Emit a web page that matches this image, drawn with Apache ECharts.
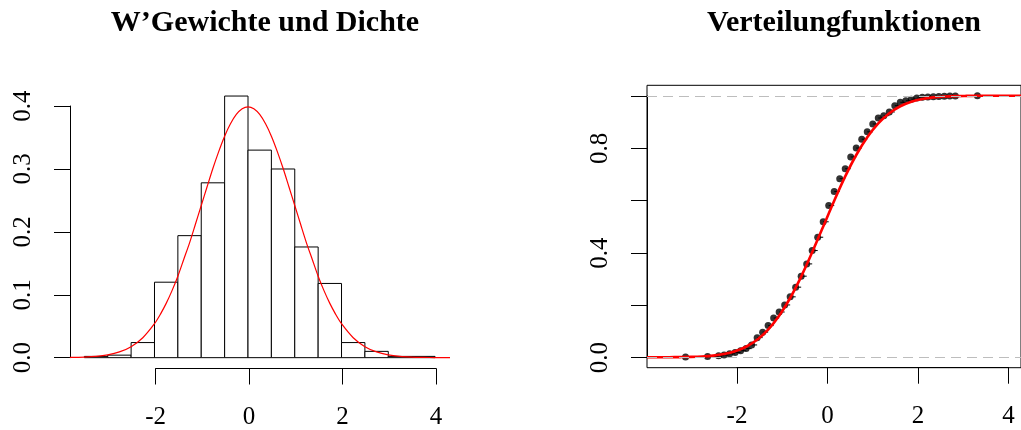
<!DOCTYPE html>
<html>
<head>
<meta charset="utf-8">
<title>W'Gewichte und Dichte / Verteilungfunktionen</title>
<script src="https://cdn.jsdelivr.net/npm/echarts@6/dist/echarts.min.js"></script>
<style>
  html, body { margin: 0; padding: 0; background: #fff; }
  #chart { width: 1021px; height: 430px; }
</style>
</head>
<body>
<div id="chart"></div>
<script>
  // Histogramm: Klassengrenzen und Dichten
  var histBreaks = [-3.5, -3, -2.5, -2, -1.5, -1, -0.5, 0, 0.5, 1, 1.5, 2, 2.5, 3, 3.5, 4];
  var histDensity = [0.002, 0.004, 0.024, 0.12, 0.194, 0.278, 0.416, 0.33, 0.30, 0.176, 0.118, 0.024, 0.01, 0.002, 0.002];

  // Dichtekurve (rot)
  var densX = [-3.81, -3.5, -3.25, -3, -2.75, -2.5, -2.25, -2, -1.875, -1.75, -1.625, -1.5, -1.375, -1.25, -1.125, -1,
               -0.875, -0.75, -0.625, -0.5, -0.375, -0.25, -0.125, 0,
               0.125, 0.25, 0.375, 0.5, 0.625, 0.75, 0.875, 1, 1.125, 1.25, 1.375, 1.5, 1.625, 1.75, 1.875, 2,
               2.25, 2.5, 2.75, 3, 3.25, 3.5, 3.75, 4, 4.32];
  var densY = [0.0003, 0.0009, 0.0020, 0.0044, 0.0091, 0.0175, 0.0317, 0.0540, 0.0689, 0.0863, 0.1066, 0.1295, 0.1561, 0.1826, 0.2121, 0.2420,
               0.2717, 0.3011, 0.3280, 0.3521, 0.3718, 0.3867, 0.3958, 0.3989,
               0.3958, 0.3867, 0.3718, 0.3521, 0.3280, 0.3011, 0.2717, 0.2420, 0.2121, 0.1826, 0.1561, 0.1295, 0.1066, 0.0863, 0.0689, 0.0540,
               0.0317, 0.0175, 0.0091, 0.0044, 0.0020, 0.0009, 0.0004, 0.0001, 0.00004];

  // empirische Verteilungsfunktion
  var ecdfX = [-3.125, -2.625, -2.375, -2.25, -2.125, -2, -1.875, -1.75, -1.625, -1.5, -1.375, -1.25, -1.125, -1, -0.875, -0.75,
               -0.625, -0.5, -0.375, -0.25, -0.125, 0, 0.125, 0.25, 0.375, 0.5, 0.625, 0.75, 0.875, 1, 1.125, 1.25,
               1.375, 1.5, 1.625, 1.75, 1.875, 2, 2.125, 2.25, 2.375, 2.5, 2.625, 2.75, 2.875, 3, 3.5];
  var ecdfY = [0.001, 0.003, 0.006, 0.009, 0.013, 0.018, 0.025, 0.033, 0.047, 0.075, 0.096, 0.121, 0.150, 0.173, 0.200, 0.231,
               0.268, 0.310, 0.357, 0.408, 0.459, 0.518, 0.580, 0.634, 0.683, 0.721, 0.766, 0.800, 0.834, 0.862, 0.892, 0.915,
               0.924, 0.938, 0.962, 0.975, 0.981, 0.987, 0.991, 0.994, 0.995, 0.996, 0.997, 0.998, 0.999, 0.999, 1.0];

  // theoretische Verteilungsfunktion (rot)
  var cdfX = [-4, -3.75, -3.5, -3.25, -3, -2.75, -2.5, -2.25, -2, -1.75, -1.5, -1.25, -1, -0.75, -0.5, -0.25, 0,
              0.25, 0.5, 0.75, 1, 1.25, 1.5, 1.75, 2, 2.25, 2.5, 2.75, 3, 3.25, 3.5, 3.75, 4, 4.49];
  var cdfY = [0.00003, 0.0001, 0.0002, 0.0006, 0.0013, 0.0030, 0.0062, 0.0122, 0.0228, 0.0401, 0.0668, 0.1056, 0.1587, 0.2266, 0.3085, 0.4013, 0.5,
              0.5987, 0.6915, 0.7734, 0.8413, 0.8944, 0.9332, 0.9599, 0.9772, 0.9878, 0.9938, 0.9970, 0.9987, 0.9994, 0.9998, 0.9999, 1.0, 1.0];

  var rightYLabels = [0, 0.4, 0.8];

  var FONT = 'Liberation Serif';

  var histData = [];
  for (var i = 0; i < histDensity.length; i++) {
    histData.push([histBreaks[i], histBreaks[i + 1], histDensity[i]]);
  }
  var densData = densX.map(function (x, i) { return [x, densY[i]]; });
  var cdfData = cdfX.map(function (x, i) { return [x, cdfY[i]]; });
  var ecdfPoints = ecdfX.map(function (x, i) { return [x, ecdfY[i]]; });

  // waagerechte Stufen der ECDF (ohne senkrechte Linien)
  var rightXMin = -4, rightXMax = 4.49;
  var ecdfSteps = [[rightXMin, 0], [ecdfX[0], 0], '-'];
  for (var k = 0; k < ecdfX.length; k++) {
    var xEnd = k < ecdfX.length - 1 ? ecdfX[k + 1] : rightXMax;
    ecdfSteps.push([ecdfX[k], ecdfY[k]], [xEnd, ecdfY[k]], '-');
  }

  function hiddenAxis(idx, min, max) {
    return { type: 'value', gridIndex: idx, min: min, max: max, show: false };
  }

  var tickStyle = { show: true, length: 16, inside: false, lineStyle: { color: '#000', width: 1 } };
  var lineStyle = { show: true, lineStyle: { color: '#000', width: 1 } };
  var labelStyle = { color: '#000', fontFamily: FONT, fontSize: 25 };
  var titleStyle = { fontFamily: FONT, fontWeight: 'bold', fontSize: 30, color: '#000' };

  var myChart = echarts.init(document.getElementById('chart'));
  var option = {
    animation: false,
    backgroundColor: '#fff',
    title: [
      { text: 'W’Gewichte und Dichte', left: 260, top: 3, textAlign: 'center', textStyle: titleStyle },
      { text: 'Verteilungfunktionen', left: 839, top: 3, textAlign: 'center', textStyle: titleStyle }
    ],
    grid: [
      // 0: Histogramm
      { left: 70, top: 85.6, width: 380, height: 282.5 },
      // 1: x-Achse links
      { left: 155.6, top: 300, width: 280.5, height: 68.5 },
      // 2: y-Achse links
      { left: 70, top: 106, width: 10, height: 251.7 },
      // 3: Verteilungsfunktion (mit Rahmen)
      { left: 647, top: 85.3, width: 384, height: 282.4, show: true, borderColor: '#000', borderWidth: 1, backgroundColor: 'transparent' },
      // 4: x-Achse rechts
      { left: 737, top: 300, width: 271.4, height: 67.7 },
      // 5: y-Achse rechts
      { left: 647, top: 96, width: 10, height: 261.7 }
    ],
    xAxis: [
      hiddenAxis(0, -3.807, 4.32),
      { type: 'value', gridIndex: 1, min: -2, max: 4, interval: 2, position: 'bottom',
        axisLine: lineStyle, axisTick: tickStyle, splitLine: { show: false },
        axisLabel: Object.assign({ margin: 36 }, labelStyle) },
      hiddenAxis(2, 0, 1),
      hiddenAxis(3, rightXMin, rightXMax),
      { type: 'value', gridIndex: 4, min: -2, max: 4, interval: 2, position: 'bottom',
        axisLine: lineStyle, axisTick: tickStyle, splitLine: { show: false },
        axisLabel: Object.assign({ margin: 36 }, labelStyle) },
      hiddenAxis(5, 0, 1)
    ],
    yAxis: [
      hiddenAxis(0, -0.0166, 0.4326),
      hiddenAxis(1, 0, 1),
      { type: 'value', gridIndex: 2, min: 0, max: 0.4, interval: 0.1, position: 'left',
        axisLine: lineStyle, axisTick: tickStyle, splitLine: { show: false },
        axisLabel: Object.assign({ margin: 34, rotate: 90, formatter: function (v) { return v.toFixed(1); } }, labelStyle) },
      hiddenAxis(3, -0.04, 1.04),
      hiddenAxis(4, 0, 1),
      { type: 'value', gridIndex: 5, min: 0, max: 1, interval: 0.2, position: 'left',
        axisLine: lineStyle, axisTick: tickStyle, splitLine: { show: false },
        axisLabel: Object.assign({ margin: 34, rotate: 90, formatter: function (v) {
          for (var j = 0; j < rightYLabels.length; j++) {
            if (Math.abs(v - rightYLabels[j]) < 1e-9) return v.toFixed(1);
          }
          return '';
        } }, labelStyle) }
    ],
    series: [
      {
        name: 'Histogramm',
        type: 'custom',
        xAxisIndex: 0,
        yAxisIndex: 0,
        data: histData,
        encode: { x: [0, 1], y: 2 },
        renderItem: function (params, api) {
          var p0 = api.coord([api.value(0), api.value(2)]);
          var p1 = api.coord([api.value(1), 0]);
          return {
            type: 'rect',
            shape: { x: p0[0], y: p0[1], width: p1[0] - p0[0], height: p1[1] - p0[1] },
            style: { fill: '#fff', stroke: '#000', lineWidth: 1 }
          };
        }
      },
      {
        name: 'Dichte',
        type: 'line',
        xAxisIndex: 0,
        yAxisIndex: 0,
        data: densData,
        smooth: 0.3,
        showSymbol: false,
        lineStyle: { color: '#ff0000', width: 1.2 }
      },
      {
        name: 'ECDF Stufen',
        type: 'line',
        xAxisIndex: 3,
        yAxisIndex: 3,
        data: ecdfSteps,
        connectNulls: false,
        showSymbol: false,
        lineStyle: { color: '#000', width: 1 },
        markLine: {
          silent: true,
          symbol: 'none',
          label: { show: false },
          lineStyle: { color: '#bdbdbd', type: [10, 6], width: 1.2 },
          data: [{ yAxis: 0 }, { yAxis: 1 }]
        }
      },
      {
        name: 'ECDF',
        type: 'scatter',
        xAxisIndex: 3,
        yAxisIndex: 3,
        data: ecdfPoints,
        symbol: 'circle',
        symbolSize: 7,
        itemStyle: { color: '#000' }
      },
      {
        name: 'Verteilungsfunktion',
        type: 'line',
        xAxisIndex: 3,
        yAxisIndex: 3,
        data: cdfData,
        smooth: 0.3,
        showSymbol: false,
        lineStyle: { color: '#ff0000', width: 2.6 }
      }
    ]
  };

  myChart.setOption(option);
  window.onresize = function () {
    myChart.resize();
  };
</script>
</body>
</html>
